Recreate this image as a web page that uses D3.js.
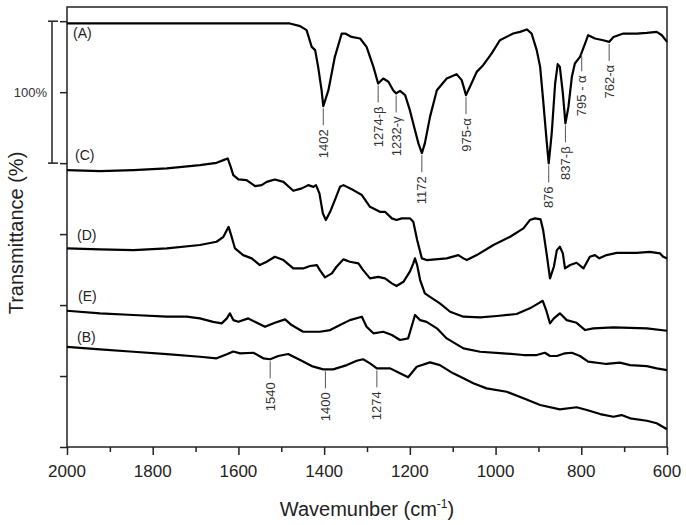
<!DOCTYPE html>
<html>
<head>
<meta charset="utf-8">
<script src="https://cdn.jsdelivr.net/npm/d3@7"></script>
<style>
  body { margin: 0; background: #fff; }
  svg { font-family: "Liberation Sans", Arial, sans-serif; }
</style>
</head>
<body>
<div id="chart"></div>
<script>
// spectra: [wavenumber, offset transmittance %]
const specA = [[2000,298.4],[1573,298.4],[1480,298.4],[1456,296.5],[1441,293.7],[1429,281.9],[1421,279.6],[1414,267.8],[1406,251.4],[1402,240.1],[1390,251.4],[1375,274.9],[1359,291.3],[1351,291.3],[1336,288.9],[1316,287.8],[1301,281.9],[1285,267.8],[1274,256.1],[1262,259.6],[1250,257.3],[1239,251.4],[1232,249.1],[1223,250.9],[1211,247.9],[1200,237.3],[1188,223.2],[1180,213.9],[1172,207.0],[1165,213.9],[1153,232.6],[1137,251.4],[1114,259.6],[1091,262.7],[1079,258.5],[1069,247.9],[1060,253.7],[1044,264.3],[1029,269.0],[1009,277.3],[990,286.6],[959,291.3],[943,292.5],[927,294.2],[916,291.3],[904,279.6],[896,267.8],[889,244.4],[881,216.2],[876,199.8],[869,220.9],[861,256.1],[855,269.7],[850,267.8],[843,249.1],[837,228.0],[830,239.6],[822,260.8],[815,270.2],[803,274.9],[791,284.3],[784,290.1],[768,287.8],[749,286.6],[735,285.4],[725,288.9],[702,291.3],[671,291.3],[647,291.8],[624,292.5],[612,290.1],[600,285.4]];
const specC = [[2000,195.1],[1923,194.4],[1845,195.1],[1767,196.3],[1690,198.6],[1651,200.2],[1635,202.1],[1625,203.3],[1618,197.4],[1612,191.5],[1600,188.5],[1581,188.0],[1561,183.8],[1546,184.5],[1534,186.8],[1515,188.5],[1495,186.8],[1472,180.5],[1452,182.2],[1437,184.5],[1425,183.3],[1419,184.5],[1411,178.7],[1403,164.6],[1396,159.9],[1386,165.7],[1375,173.9],[1363,183.3],[1355,184.5],[1332,181.0],[1312,177.5],[1293,169.2],[1270,165.7],[1258,165.7],[1242,161.1],[1231,159.9],[1219,161.1],[1200,161.1],[1192,158.7],[1183,145.8],[1172,132.9],[1161,131.7],[1114,132.9],[1087,135.2],[1075,132.9],[1067,131.7],[1044,135.2],[1005,142.3],[966,148.1],[935,154.0],[920,159.9],[908,161.1],[895,160.4],[889,152.8],[881,136.4],[873,118.8],[864,127.0],[857,138.7],[850,141.1],[843,136.4],[838,125.8],[826,128.2],[811,129.8],[795,125.8],[780,134.0],[768,135.2],[758,132.9],[741,135.2],[717,136.8],[671,136.8],[640,137.5],[616,136.4],[609,134.0],[600,132.9]];
const specD = [[2000,139.9],[1923,139.2],[1845,138.7],[1767,139.9],[1690,142.3],[1651,144.6],[1635,148.1],[1623,155.1],[1617,149.3],[1608,139.9],[1589,135.2],[1569,132.9],[1550,128.2],[1534,130.5],[1515,134.0],[1495,131.7],[1472,125.8],[1449,125.8],[1433,127.5],[1417,128.2],[1410,124.6],[1398,119.5],[1382,122.3],[1371,127.0],[1355,132.2],[1340,130.5],[1320,129.4],[1309,124.6],[1293,118.8],[1274,119.9],[1258,118.8],[1242,115.3],[1231,113.4],[1215,116.4],[1200,123.5],[1192,129.4],[1188,132.9],[1183,128.2],[1176,117.6],[1165,108.2],[1153,105.8],[1130,101.2],[1106,95.3],[1075,91.8],[1036,91.3],[997,92.3],[951,93.7],[920,97.7],[900,101.2],[890,103.0],[882,96.5],[873,87.1],[864,90.6],[850,94.2],[834,89.4],[811,87.5],[791,82.4],[772,83.6],[725,84.3],[647,83.6],[600,81.9]];
const specE = [[2000,96.0],[1923,94.2],[1845,93.0],[1767,91.8],[1721,91.8],[1690,90.6],[1659,88.2],[1639,87.1],[1627,90.6],[1620,94.2],[1612,89.4],[1600,88.2],[1577,90.6],[1557,87.5],[1538,84.7],[1515,87.5],[1491,89.9],[1476,85.9],[1449,81.2],[1410,81.2],[1386,82.4],[1371,84.7],[1363,85.9],[1340,89.4],[1312,91.8],[1301,84.7],[1285,80.1],[1262,81.2],[1242,78.9],[1223,75.4],[1204,76.5],[1196,84.7],[1188,93.0],[1176,89.4],[1161,88.2],[1137,83.6],[1114,76.5],[1075,69.5],[1036,67.1],[982,66.0],[935,64.8],[904,64.8],[885,66.4],[873,64.1],[857,64.1],[838,66.0],[822,66.4],[803,64.1],[784,60.1],[741,58.5],[710,59.4],[686,57.7],[647,57.0],[624,55.4],[600,54.2]];
const specB = [[2000,70.6],[1923,68.8],[1845,67.1],[1767,65.5],[1690,63.6],[1651,62.5],[1627,65.3],[1612,67.3],[1596,66.0],[1565,66.4],[1542,62.5],[1526,61.8],[1507,64.1],[1484,65.5],[1456,61.3],[1429,57.0],[1402,54.7],[1379,54.7],[1347,57.7],[1324,60.8],[1309,61.8],[1293,58.9],[1277,55.4],[1246,55.4],[1223,51.9],[1204,49.1],[1184,56.5],[1153,59.6],[1130,57.7],[1099,51.9],[1075,48.4],[1052,44.9],[1021,41.3],[974,38.9],[935,34.3],[896,29.6],[850,26.5],[811,28.0],[787,26.1],[756,23.2],[725,21.3],[706,22.5],[686,20.2],[647,18.5],[624,16.7],[600,12.5]];

const seriesNames = ["(A)", "(C)", "(D)", "(E)", "(B)"];
const seriesData = [specA, specC, specD, specE, specB];

// peak marks: text, and wavenumber where the mark is drawn
const peaksA = [["1402",1402],["1274-\u03b2",1274],["1232-\u03b3",1232],["1172",1172],["975-\u03b1",1069],["876",876],["837-\u03b2",837],["795 - \u03b1",799],["762-\u03b1",735]];
const peaksB = [["1540",1526],["1400",1397],["1274",1277]];

const xTicks = d3.range(600, 2001, 100);
const xLabels = [2000, 1800, 1600, 1400, 1200, 1000, 800, 600];
const yTicks = [0, 50, 100, 150, 200, 250, 300];
const scaleBar = [200, 300]; // 100% bar

const W = 686, H = 525;
const margin = {top: 7, right: 19, bottom: 78, left: 67};

const svg = d3.select('#chart').append('svg')
  .attr('width', W).attr('height', H);

const x = d3.scaleLinear().domain([2000, 600]).range([margin.left, W - margin.right]);
const y = d3.scaleLinear().domain([0, 310]).range([H - margin.bottom, margin.top]);

const yBase = y(0);

// frame
svg.append('rect')
  .attr('x', margin.left).attr('y', margin.top)
  .attr('width', x(600) - margin.left).attr('height', yBase - margin.top)
  .attr('fill', 'none').attr('stroke', '#222').attr('stroke-width', 1.5);

// x axis
const xAxis = svg.append('g').attr('transform', `translate(0,${yBase})`)
  .call(d3.axisBottom(x).tickValues(xTicks)
    .tickSize(0).tickFormat(''));
xAxis.select('.domain').remove();
xAxis.selectAll('.tick line')
  .attr('y2', d => xLabels.includes(d) ? 8 : 5)
  .attr('stroke', '#222').attr('stroke-width', 1.5);
xAxis.selectAll('.tick text').remove();
svg.append('g').selectAll('text').data(xLabels).join('text')
  .attr('x', d => x(d)).attr('y', yBase + 30)
  .attr('text-anchor', 'middle')
  .attr('font-size', 17).attr('fill', '#222')
  .text(d => d);

// y axis
const yAxis = svg.append('g').attr('transform', `translate(${margin.left},0)`)
  .call(d3.axisLeft(y).tickValues(yTicks).tickSize(7).tickFormat(''));
yAxis.select('.domain').remove();
yAxis.selectAll('.tick line').attr('stroke', '#222').attr('stroke-width', 1.5);

// titles
const xt = svg.append('text')
  .attr('x', (margin.left + x(600)) / 2).attr('y', 516)
  .attr('text-anchor', 'middle').attr('font-size', 20).attr('fill', '#222');
xt.append('tspan').text('Wavemunber (cm');
xt.append('tspan').attr('font-size', 12).attr('dy', -8).text('-1');
xt.append('tspan').attr('dy', 8).text(')');

svg.append('text')
  .attr('transform', `translate(16,${(margin.top + yBase) / 2 + 6}) rotate(-90)`)
  .attr('dy', '0.35em')
  .attr('text-anchor', 'middle').attr('font-size', 20).attr('fill', '#222')
  .text('Transmittance (%)');

// 100% scale bar
const bar = svg.append('g').attr('stroke', '#222').attr('stroke-width', 1.5);
bar.append('line').attr('x1', 52).attr('x2', 52)
  .attr('y1', y(scaleBar[0])).attr('y2', y(scaleBar[1]));
bar.selectAll('line.cap').data(scaleBar).join('line').attr('class', 'cap')
  .attr('x1', 48).attr('x2', 58).attr('y1', d => y(d)).attr('y2', d => y(d));
svg.append('text')
  .attr('x', 47).attr('y', y(d3.mean(scaleBar)) + 5)
  .attr('text-anchor', 'end').attr('font-size', 13).attr('fill', '#333')
  .text('100%');

// spectra
const line = d3.line().x(d => x(d[0])).y(d => y(d[1]));
svg.append('g').selectAll('path').data(seriesData).join('path')
  .attr('d', line)
  .attr('fill', 'none').attr('stroke', '#000')
  .attr('stroke-width', 2.2).attr('stroke-linejoin', 'round');

// series labels (offsets from start of each curve)
const labelDy = [15, -10, -8, -10, -5];
const labelDx = [6, 8, 10, 11, 10];
svg.append('g').selectAll('text').data(seriesNames).join('text')
  .attr('x', (d, i) => margin.left + labelDx[i])
  .attr('y', (d, i) => y(seriesData[i][0][1]) + labelDy[i])
  .attr('font-size', 14).attr('fill', '#222')
  .text(d => d);

// value of a spectrum at wavenumber w
function valueAt(spec, w) {
  for (let i = 1; i < spec.length; i++) {
    if (spec[i][0] <= w) {
      const a = spec[i - 1], b = spec[i];
      const t = (a[0] - w) / (a[0] - b[0]);
      return a[1] + t * (b[1] - a[1]);
    }
  }
  return spec[spec.length - 1][1];
}

function drawPeaks(peaks, spec) {
  const g = svg.append('g');
  peaks.forEach(p => {
    const px = x(p[1]);
    const top = y(valueAt(spec, p[1])) + 2;
    g.append('line')
      .attr('x1', px).attr('x2', px).attr('y1', top).attr('y2', top + 17)
      .attr('stroke', '#555').attr('stroke-width', 1);
    g.append('text')
      .attr('transform', `translate(${px},${top + 21}) rotate(-90)`)
      .attr('dy', '0.35em').attr('text-anchor', 'end')
      .attr('font-size', 13).attr('fill', '#333')
      .text(p[0]);
  });
}
drawPeaks(peaksA, specA);
drawPeaks(peaksB, specB);
</script>
</body>
</html>
